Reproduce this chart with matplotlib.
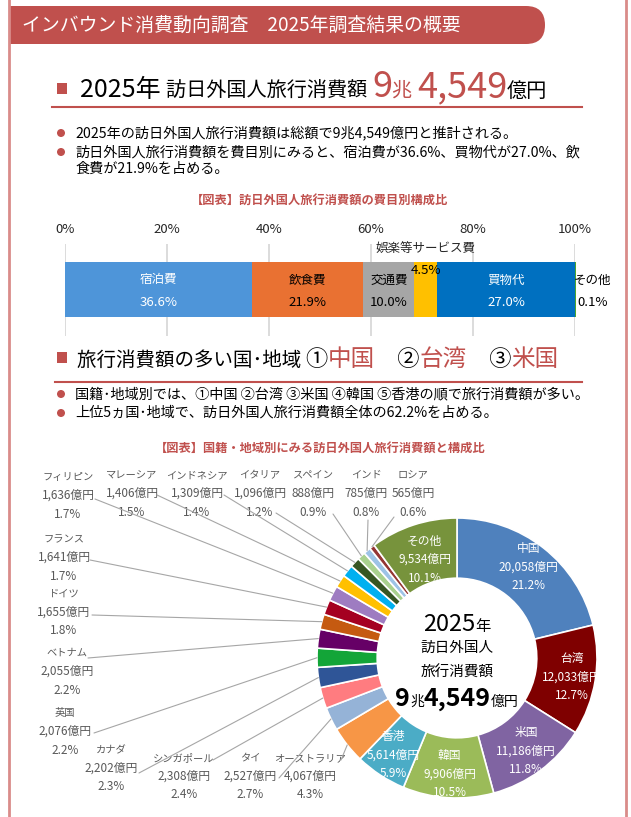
import numpy as np
import matplotlib as mpl
mpl.use('Agg')
import matplotlib.pyplot as plt
from matplotlib.patches import FancyBboxPatch, Rectangle, Circle

plt.rcParams['font.family'] = ['Noto Sans CJK JP', 'DejaVu Sans']

RED = '#C0504D'
GRAY_TXT = '#595959'

# 費目別構成比 (%)
cat_names = ['宿泊費', '飲食費', '交通費', '娯楽等サービス費', '買物代', 'その他']
cat_share = [36.6, 21.9, 10.0, 4.5, 27.0, 0.1]
cat_colors = ['#4E95D9', '#E97132', '#A6A6A6', '#FFC000', '#0070C0', '#4EA72E']

# 国籍・地域別 (億円, %)
countries = ['中国', '台湾', '米国', '韓国', '香港', 'オーストラリア', 'タイ',
             'シンガポール', 'カナダ', '英国', 'ベトナム', 'ドイツ', 'フランス',
             'フィリピン', 'マレーシア', 'インドネシア', 'イタリア', 'スペイン',
             'インド', 'ロシア', 'その他']
amounts = [20058, 12033, 11186, 9906, 5614, 4067, 2527, 2308, 2202, 2076, 2055,
           1655, 1641, 1636, 1406, 1309, 1096, 888, 785, 565, 9534]
shares = [21.2, 12.7, 11.8, 10.5, 5.9, 4.3, 2.7, 2.4, 2.3, 2.2, 2.2,
          1.8, 1.7, 1.7, 1.5, 1.4, 1.2, 0.9, 0.8, 0.6, 10.1]
pie_colors = ['#4F81BD', '#7F0000', '#8064A2', '#9BBB59', '#4BACC6', '#F79646',
              '#95B3D7', '#FF7C80', '#2F5597', '#13A538', '#660066', '#C55A11',
              '#A50021', '#9E7CC1', '#FFC000', '#00B0F0', '#375623', '#A9D18E',
              '#9DC3E6', '#943634', '#77933C']

W, H = 631, 817
fig = plt.figure(figsize=(W / 100, H / 100), dpi=100)
ax = fig.add_axes([0, 0, 1, 1])
ax.set_xlim(0, W)
ax.set_ylim(H, 0)
ax.axis('off')
rend = fig.canvas.get_renderer()


def rich(x, y, parts, ha='left', va='baseline'):
    # parts: (text, size, color, weight)
    items = []
    cx = x
    for s, size, color, weight in parts:
        t = ax.text(cx, y, s, fontsize=size, color=color, fontweight=weight,
                    ha='left', va=va)
        cx += t.get_window_extent(rend).width
        items.append(t)
    if ha == 'center':
        shift = (cx - x) / 2
        for t in items:
            t.set_x(t.get_position()[0] - shift)


# frame + header band
ax.plot([9, 9], [0, H], color='#D98C8A', lw=2)
ax.plot([626, 626], [0, H], color='#D98C8A', lw=2)
ax.add_patch(FancyBboxPatch((9, 6), 536, 38, boxstyle='round,pad=0,rounding_size=19',
                            fc=RED, ec='none'))
ax.add_patch(Rectangle((9, 6), 40, 38, fc=RED, ec='none'))
ax.text(22, 25, 'インバウンド消費動向調査　2025年調査結果の概要', color='white',
        fontsize=13.6, va='center')

# heading 1
ax.add_patch(Rectangle((57, 83), 10, 11, fc=RED, ec='none'))
rich(80, 97, [('2025年 ', 18, 'black', 'normal'),
              ('訪日外国人旅行消費額 ', 14.5, 'black', 'normal'),
              ('9', 26, RED, 'normal'), ('兆 ', 14.5, RED, 'normal'),
              ('4,549', 26, RED, 'normal'), ('億円', 14.5, 'black', 'normal')])
ax.plot([52, 582], [107, 107], color=RED, lw=1.5)

for yy in [133, 152]:
    ax.add_patch(Circle((61, yy), 4, fc=RED, ec='none'))
ax.text(75, 133, '2025年の訪日外国人旅行消費額は総額で9兆4,549億円と推計される。',
        fontsize=10.2, va='center')
ax.text(75, 152, '訪日外国人旅行消費額を費目別にみると、宿泊費が36.6%、買物代が27.0%、飲',
        fontsize=10.2, va='center')
ax.text(75, 169, '食費が21.9%を占める。', fontsize=10.2, va='center')

ax.text(320, 200, '【図表】訪日外国人旅行消費額の費目別構成比', color=RED,
        fontsize=8.8, fontweight='bold', ha='center', va='center')

# heading 2
ax.add_patch(Rectangle((57, 352), 10, 11, fc=RED, ec='none'))
rich(77, 366, [('旅行消費額の多い国･地域 ', 14, 'black', 'normal'),
               ('①', 16, 'black', 'normal'), ('中国', 17, RED, 'normal'),
               ('　②', 16, 'black', 'normal'), ('台湾', 17, RED, 'normal'),
               ('　③', 16, 'black', 'normal'), ('米国', 17, RED, 'normal')])
ax.plot([55, 582], [382, 382], color=RED, lw=1.5)
for yy in [394, 413]:
    ax.add_patch(Circle((61, yy), 4, fc=RED, ec='none'))
ax.text(75, 394, '国籍･地域別では、①中国 ②台湾 ③米国 ④韓国 ⑤香港の順で旅行消費額が多い。',
        fontsize=10.2, va='center')
ax.text(75, 413, '上位5ヵ国･地域で、訪日外国人旅行消費額全体の62.2%を占める。',
        fontsize=10.2, va='center')
ax.text(320, 448, '【図表】国籍・地域別にみる訪日外国人旅行消費額と構成比', color=RED,
        fontsize=8.8, fontweight='bold', ha='center', va='center')

# ---- stacked bar ----
bx0, bx1, by0, by1 = 65, 575, 244, 336
bax = fig.add_axes([bx0 / W, (H - by1) / H, (bx1 - bx0) / W, (by1 - by0) / H])
bax.set_xlim(0, 100)
bax.set_ylim(by1, by0)
for s in bax.spines.values():
    s.set_visible(False)
bax.set_yticks([])
bax.set_xticks(range(0, 101, 20))
bax.set_xticklabels([f'{v}%' for v in range(0, 101, 20)], fontsize=9.5, color='#262626')
bax.xaxis.tick_top()
bax.tick_params(axis='x', length=0, pad=6)
bax.grid(axis='x', color='#D9D9D9', lw=1.3)
bax.set_axisbelow(True)
left = 0
txt_col = ['white', 'black', 'black', 'black', 'white', 'black']
for name, v, c, tc in zip(cat_names, cat_share, cat_colors, txt_col):
    bax.barh(289.5, v, left=left, height=55, color=c, clip_on=False)
    mid = left + v / 2
    if name == '娯楽等サービス費':
        bax.text(mid, 248, name, fontsize=9, ha='center', va='center', color='#262626')
        bax.text(mid, 270, f'{v}%', fontsize=9.5, ha='center', va='center', color='black')
    elif name == 'その他':
        bax.text(103.5, 280, name, fontsize=9, ha='center', va='center', color='black', clip_on=False)
        bax.text(103.5, 302, f'{v}%', fontsize=9.5, ha='center', va='center', color='black', clip_on=False)
    else:
        bax.text(mid, 280, name, fontsize=9, ha='center', va='center', color=tc)
        bax.text(mid, 302, f'{v}%', fontsize=9.5, ha='center', va='center', color=tc)
    left += v

# ---- donut ----
cx, cy, R = 457, 658, 140
pax = fig.add_axes([(cx - R) / W, (H - cy - R) / H, 2 * R / W, 2 * R / H])
wedges, _ = pax.pie(amounts, colors=pie_colors, startangle=90, counterclock=False,
                    radius=1, wedgeprops=dict(width=0.43, edgecolor='white', linewidth=1.2))
pax.set_xlim(-1, 1)
pax.set_ylim(-1, 1)
pax.set_aspect('equal')
pax.axis('off')

inside = {'中国': 0.83, '台湾': 0.83, '米国': 0.83, '韓国': 0.83, '香港': 0.83, 'その他': 0.74}
# label: (x center, y of first line, leader start x, leader start y)
outside = {
    'オーストラリア': (310, 758, 341, 760),
    'タイ': (250, 758, 279, 778),
    'シンガポール': (184, 758, 213, 760),
    'カナダ': (111, 750, 139, 773),
    '英国': (65, 713, 94, 733),
    'ベトナム': (67, 653, 88, 658),
    'ドイツ': (64, 594, 92, 615),
    'フランス': (64, 539, 90, 560),
    'フィリピン': (68, 477, 95, 499),
    'マレーシア': (132, 475, 157, 495),
    'インドネシア': (197, 475, 224, 495),
    'イタリア': (260, 475, 276, 513),
    'スペイン': (313, 475, 333, 514),
    'インド': (366, 475, 368, 520),
    'ロシア': (413, 475, 394, 517),
}

for w, name, amt, sh in zip(wedges, countries, amounts, shares):
    ang = np.deg2rad((w.theta1 + w.theta2) / 2)
    lab = f'{name}\n{amt:,}億円\n{sh}%'
    if name in inside:
        r = inside[name]
        pax.text(r * np.cos(ang), r * np.sin(ang), lab, color='white', fontsize=8.5,
                 ha='center', va='center', linespacing=1.55)
    else:
        lx, ly, sx, sy = outside[name]
        for i, s in enumerate(lab.split('\n')):
            ax.text(lx, ly + i * 18.5, s, color=GRAY_TXT,
                    fontsize=7.4 if i == 0 else 8.5, ha='center', va='center')
        pax.annotate('', xy=(np.cos(ang), np.sin(ang)), xycoords='data',
                     xytext=(sx, H - sy), textcoords='figure pixels',
                     arrowprops=dict(arrowstyle='-', color='#A6A6A6', lw=0.8,
                                     shrinkA=0, shrinkB=0),
                     annotation_clip=False)

# centre text
rich(cx, 631, [('2025', 17, 'black', 'normal'), ('年', 11, 'black', 'normal')], ha='center')
ax.text(cx, 648, '訪日外国人', fontsize=10.5, ha='center', va='center')
ax.text(cx, 673, '旅行消費額', fontsize=10.5, ha='center', va='center')
rich(cx, 706, [('9', 18, 'black', 'bold'), ('兆', 10, 'black', 'normal'),
               ('4,549', 18, 'black', 'bold'), ('億円', 10, 'black', 'normal')], ha='center')

fig.savefig('out.png', dpi=100)
